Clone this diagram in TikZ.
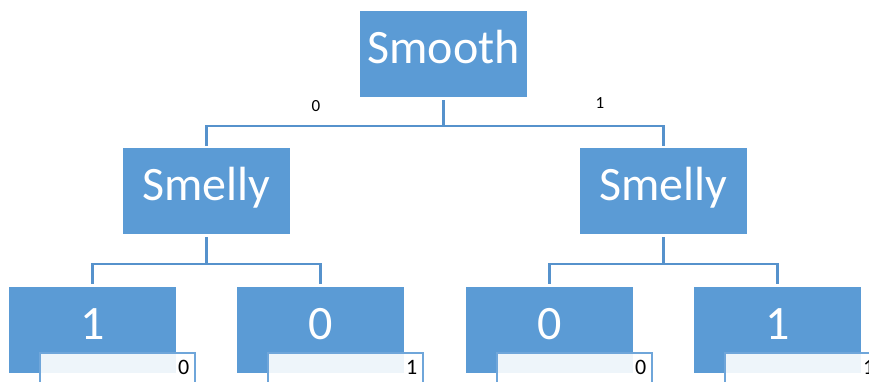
\documentclass[tikz,border=0pt]{standalone}
\usepackage{fontspec}
\setmainfont{Carlito}
\definecolor{boxblue}{HTML}{5B9BD5}
\definecolor{lineblue}{HTML}{5692CC}
\definecolor{subedge}{HTML}{6FA6DA}
\begin{document}
\begin{tikzpicture}[x=1pt,y=-1pt,
  bigbox/.style={rectangle,fill=boxblue,draw=none,minimum width=167pt,minimum height=86pt,inner sep=0pt,
    text=white,font=\fontsize{48}{58}\selectfont,text height=31pt,text depth=12pt},
  subbox/.style={rectangle,fill=white,fill opacity=0.9,draw=subedge,draw opacity=1,line width=1.6pt,
    minimum width=155pt,minimum height=47pt,inner sep=0pt},
  sublabel/.style={text=black,font=\fontsize{22}{26}\selectfont,inner sep=0pt},
  edgelabel/.style={text=black,font=\fontsize{17}{20}\selectfont,inner sep=0pt},
  conn/.style={draw=lineblue,line width=2.6pt}]
\useasboundingbox (0,0) rectangle (869,381);
\clip (0,0) rectangle (869,381);
% nodes
\node[bigbox] (smooth) at (443.5,54) {Smooth};
\node[bigbox] (sl) at (206.5,191) {Smelly};
\node[bigbox] (sr) at (663.5,191) {Smelly};
\node[bigbox] (l1) at (92.5,329.5) {1};
\node[bigbox] (l2) at (320.5,329.5) {0};
\node[bigbox] (l3) at (549.5,329.5) {0};
\node[bigbox] (l4) at (777.5,329.5) {1};
% sub boxes
\node[subbox] (s1) at (117.5,376.5) {};
\node[subbox] (s2) at (345.5,376.5) {};
\node[subbox] (s3) at (574.5,376.5) {};
\node[subbox] (s4) at (802.5,376.5) {};
\node[sublabel] (t1) at ([shift={(-12,15)}]s1.north east) {0};
\node[sublabel] (t2) at ([shift={(-12,15)}]s2.north east) {1};
\node[sublabel] (t3) at ([shift={(-12,15)}]s3.north east) {0};
\node[sublabel] (t4) at ([shift={(-12,15)}]s4.north east) {1};
% junctions
\coordinate (j0) at (443.5,126);
\coordinate (j1) at (206.5,264);
\coordinate (j2) at (663.5,264);
% connectors
\draw[conn] ([yshift=-3pt]smooth.south) -- (j0) -| ([yshift=2pt]sl.north);
\draw[conn] (j0) -| ([yshift=2pt]sr.north);
\draw[conn] ([yshift=-3pt]sl.south) -- (j1) -| ([yshift=2.5pt]l1.north);
\draw[conn] (j1) -| ([yshift=2.5pt]l2.north);
\draw[conn] ([yshift=-3pt]sr.south) -- (j2) -| ([yshift=2.5pt]l3.north);
\draw[conn] (j2) -| ([yshift=2.5pt]l4.north);
% edge labels
\node[edgelabel] (e0) at (316,106) {0};
\node[edgelabel] (e1) at (600,103) {1};
\end{tikzpicture}
\end{document}
